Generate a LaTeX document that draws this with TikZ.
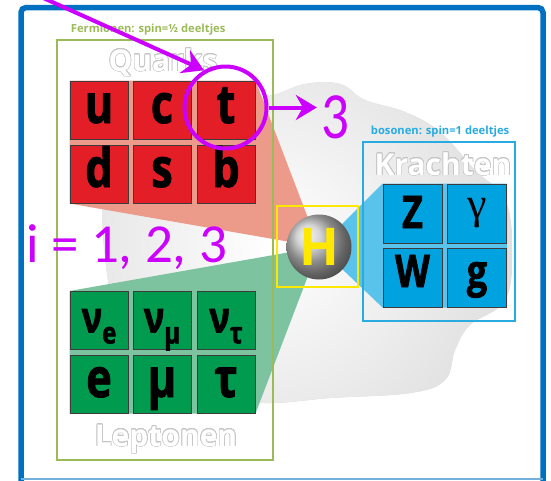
\documentclass[tikz,border=0pt]{standalone}
\usepackage{fontspec}
\usepackage{contour}
\usetikzlibrary{arrows.meta,backgrounds}
\newfontfamily\cellfont{Open Sans}[FakeStretch=0.8, FakeBold=1.6]
\newfontfamily\titlefont{Open Sans}
\newfontfamily\notefont{Carlito}
\newfontfamily\greekserif{Liberation Serif}
\definecolor{frameblue}{HTML}{0070C0}
\definecolor{fermgreen}{HTML}{9BBB59}
\definecolor{bosblue}{HTML}{29ABE2}
\definecolor{higgsyellow}{HTML}{FFE800}
\definecolor{quarkred}{HTML}{E41E26}
\definecolor{leptongreen}{HTML}{009B4E}
\definecolor{bosonblue}{HTML}{00A3E0}
\definecolor{cellline}{HTML}{3C3C3C}
\definecolor{quarkfan}{HTML}{EC9A8A}
\definecolor{leptonfan}{HTML}{7DC3A0}
\definecolor{bosonfan}{HTML}{5AC3EB}
\definecolor{mag}{HTML}{CC00FF}
\contourlength{0.6pt}
\contournumber{20}
\newcommand\nusub[1]{\raisebox{-11pt}{\fontsize{30}{30}\selectfont #1}}

\begin{document}
\begin{tikzpicture}[x=1pt, y=-1pt,
  cell/.style={draw=cellline, line width=1pt, minimum size=58pt, inner sep=0pt,
    text height=26pt, text depth=0pt, font=\cellfont\bfseries\fontsize{54}{54}\selectfont},
  quark/.style={cell, fill=quarkred},
  lepton/.style={cell, fill=leptongreen},
  boson/.style={cell, fill=bosonblue, minimum size=59pt, font=\cellfont\bfseries\fontsize{45}{45}\selectfont},
  groupbox/.style={line width=2.5pt, inner sep=0pt},
  boxlabel/.style={anchor=south west, inner sep=0pt, font=\titlefont\bfseries\fontsize{11.2}{12}\selectfont},
  title/.style={anchor=base, inner sep=0pt, text=white, font=\titlefont\bfseries\fontsize{30}{30}\selectfont},
  note/.style={text=mag, inner sep=0pt, font=\notefont\fontsize{55}{55}\selectfont},
  marrow/.style={mag, line width=4pt, -{Stealth[length=21pt, width=25pt, inset=7pt]}}]
  \useasboundingbox (0,0) rectangle (551,480);

  % ---------------- frame ----------------
  \draw[frameblue, line width=5.5pt, rounded corners=5pt] (21,486) -- (21,7.5) -- (543,7.5) -- (543,486);
  \draw[frameblue!55, line width=1.5pt] (21,479) -- (543,479);

  % ---------------- particle cells ----------------
  \foreach \name/\sym/\x/\y in {q1/u/99/110, q2/c/162/110, q3/t/226/110,
                                q4/d/99/174, q5/s/162/174, q6/b/226/174}
    \node[quark] (\name) at (\x,\y) {\sym};

  \foreach \name/\sym/\x in {l1/e/99, l2/μ/162, l3/τ/226}
    \node[lepton, text height=24pt, font=\cellfont\bfseries\fontsize{43}{43}\selectfont]
      (\name) at (\x,320.5) {ν\nusub{\sym}};
  \foreach \name/\sym/\x in {l4/e/99, l5/μ/162, l6/τ/226}
    \node[lepton] (\name) at (\x,384) {\sym};

  \node[boson, text height=29pt] (b1) at (412.5,213.5) {Z};
  \node[boson, text height=10pt, font=\greekserif\fontsize{44}{44}\selectfont] (b2) at (477,213.5) {γ};
  \node[boson, text height=19pt] (b3) at (412.5,277.5) {W};
  \node[boson, text height=19pt] (b4) at (477,277.5) {g};

  % ---------------- Higgs ----------------
  \node[groupbox, draw=higgsyellow, minimum size=81pt] (hbox) at (317.5,246.5) {};
  \node[circle, minimum size=65pt, inner sep=0pt, shade, shading=ball, ball color=gray!45,
    text=higgsyellow, font=\titlefont\bfseries\fontsize{52}{52}\selectfont] (hsph) at (319,247) {H};

  % ---------------- background: Higgs field and fans ----------------
  \begin{scope}[on background layer]
    \path[fill=gray!35] plot[smooth cycle, tension=0.65] coordinates {
      (102,205) (112,160) (150,122) (230,102) (273,95) (305,84) (340,84) (365,100)
      (405,112) (440,132) (475,170) (505,200) (512,250) (505,300) (470,325) (455,350)
      (445,380) (410,393) (330,398) (265,403) (200,395) (140,360) (112,300)};
    \begin{scope}
      \clip plot[smooth cycle, tension=0.65] coordinates {
        (102,205) (112,160) (150,122) (230,102) (273,95) (305,84) (340,84) (365,100)
        (405,112) (440,132) (475,170) (505,200) (512,250) (505,300) (470,325) (455,350)
        (445,380) (410,393) (330,398) (265,403) (200,395) (140,360) (112,300)};
      \shade[inner color=white, outer color=gray!35] (275,245) circle (340);
    \end{scope}
    \fill[quarkfan] (hsph.center) -- (q3.north east) -- (q1.north west) -- (q4.south west) -- cycle;
    \fill[leptonfan] (hsph.center) -- (l1.north west) -- (l4.south west) -- (l6.south east) -- cycle;
    \fill[bosonfan] (hsph.center) -- (b1.north west) -- (b2.north east) -- (b4.south east) -- (b3.south west) -- cycle;
  \end{scope}

  % ---------------- group boxes ----------------
  \node[groupbox, draw=fermgreen, minimum width=216pt, minimum height=420pt] (fermbox) at (165,250) {};
  \node[boxlabel, text=fermgreen] (fermlabel) at ([shift={(15pt,3pt)}]fermbox.north west)
    {Fermionen: spin=½ deeltjes};
  \node[groupbox, draw=bosblue, minimum width=152pt, minimum height=179pt] (bosbox) at (439,231.5) {};
  \node[boxlabel, text=bosblue] (boslabel) at ([shift={(9pt,3pt)}]bosbox.north west)
    {bosonen: spin=1 deeltjes};

  \node[title] (quarks) at (163,71) {\contour{gray!45}{Quarks}};
  \node[title] (leptons) at (166,446) {\contour{gray!45}{Leptonen}};
  \node[title] (forces) at (443,175) {\contour{gray!45}{Krachten}};

  % ---------------- annotations ----------------
  \node[circle, draw=mag, line width=4pt, minimum size=82pt, inner sep=0pt] (tcirc) at (225.5,107.5) {};
  \node[note] (three) at (335,117.5) {\scalebox{1}[1.2]{3}};
  \node[note, anchor=base west] (gen) at (26,262) {i = 1, 2, 3};
  \coordinate (mstart) at (30,-8);
  \draw[marrow] (mstart) -- (tcirc.120);
  \draw[marrow, shorten >=4pt] (tcirc.east) -- (three.west |- tcirc.east);
\end{tikzpicture}
\end{document}
